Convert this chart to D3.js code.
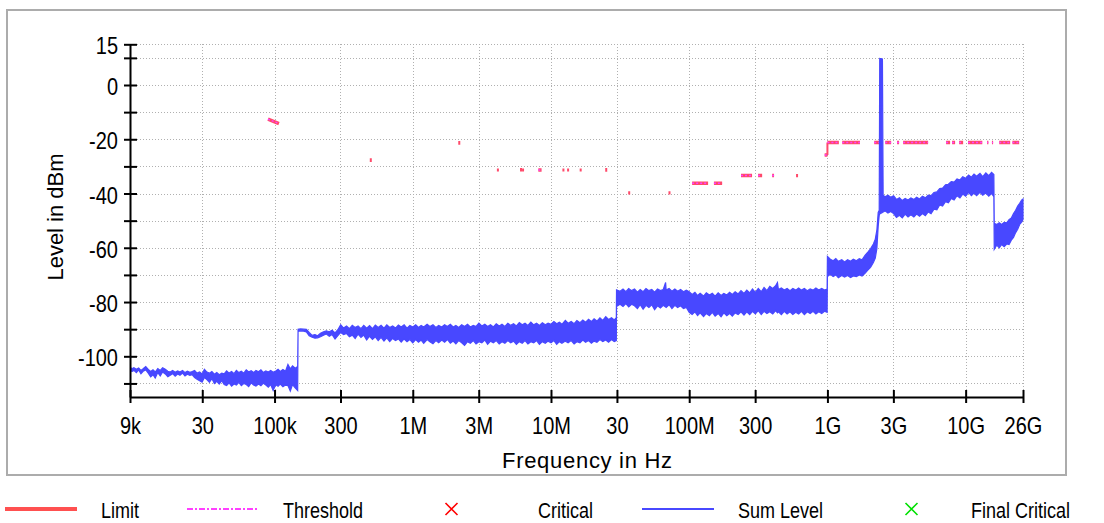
<!DOCTYPE html>
<html><head><meta charset="utf-8">
<script src="https://cdn.jsdelivr.net/npm/d3@7"></script>
<style>
body{margin:0;background:#fff}
svg{display:block}
text{font-family:"Liberation Sans",Arial,sans-serif;fill:#000}
</style>
</head><body>
<svg id="chart" width="1104" height="523"></svg>
<script>
// ---------- data ----------
const xTickValues = [9e3, 3e4, 1e5, 3e5, 1e6, 3e6, 1e7, 3e7, 1e8, 3e8, 1e9, 3e9, 1e10, 2.6e10];
const xTickLabels = ["9k", "30", "100k", "300", "1M", "3M", "10M", "30", "100M", "300", "1G", "3G", "10G", "26G"];
const yTickValues = [15, 10, 0, -10, -20, -30, -40, -50, -60, -70, -80, -90, -100, -110];
const yTickLabels = ["15", "", "0", "", "-20", "", "-40", "", "-60", "", "-80", "", "-100", ""];

// Sum Level trace rows: [frequency Hz, upper edge dBm, lower edge dBm]
const sumLevelLF = [
  [9e3, -104.0, -104.8], [9.3e3, -104.6, -105.6], [9.6e3, -104.2, -105.2], [10e3, -104.8, -106.0],
  [10.4e3, -104.3, -105.0], [10.8e3, -105.2, -106.4], [11.2e3, -104.6, -105.5], [11.7e3, -103.8, -105.0],
  [12.2e3, -104.8, -106.2], [12.7e3, -105.6, -107.6], [13.2e3, -105.0, -106.8], [13.7e3, -105.8, -108.0],
  [14.3e3, -104.5, -106.0], [14.9e3, -105.2, -107.2], [15.5e3, -104.2, -105.8], [16.2e3, -104.8, -106.5],
  [16.9e3, -105.5, -107.5], [17.6e3, -105.8, -107.0], [18.3e3, -105.2, -106.4], [19.1e3, -105.9, -107.3],
  [19.9e3, -105.4, -106.5], [20.7e3, -105.8, -107.0], [21.6e3, -105.2, -106.2], [22.5e3, -106.0, -107.2],
  [23.4e3, -105.5, -106.6], [24.4e3, -105.9, -107.0], [25.4e3, -105.6, -106.8], [26.4e3, -105.2, -107.8],
  [27.5e3, -106.2, -108.5], [28.7e3, -105.8, -109.0], [29.9e3, -106.5, -109.5], [31.1e3, -104.8, -107.8],
  [32.4e3, -105.8, -108.6], [33.8e3, -106.2, -109.6], [35.2e3, -105.6, -108.2], [36.7e3, -106.6, -110.0],
  [38.2e3, -106.0, -109.2], [39.8e3, -106.8, -110.2], [41.5e3, -106.2, -109.0], [43.2e3, -106.5, -110.4],
  [45e3, -105.4, -110.8], [46.9e3, -106.2, -109.8], [48.9e3, -105.6, -111.0], [50.9e3, -106.4, -110.2],
  [53e3, -105.2, -110.6], [55.2e3, -106.0, -109.6], [57.5e3, -105.5, -110.8], [59.9e3, -106.2, -110.0],
  [62.4e3, -105.0, -110.4], [65e3, -105.8, -111.2], [67.7e3, -105.3, -109.8], [70.5e3, -106.0, -110.6],
  [73.4e3, -105.2, -111.0], [76.5e3, -105.7, -110.2], [79.7e3, -105.0, -110.8], [83e3, -106.0, -109.9],
  [86.5e3, -105.4, -110.6], [90.1e3, -105.8, -111.4], [93.8e3, -105.2, -110.4], [97.7e3, -105.9, -112.6],
  [102e3, -105.4, -110.5], [106e3, -104.8, -111.0], [110e3, -105.6, -110.2], [115e3, -104.9, -111.2],
  [120e3, -105.5, -110.6], [125e3, -103.0, -110.8], [130e3, -104.6, -112.8], [135e3, -103.5, -110.4],
  [141e3, -104.4, -111.6], [147e3, -103.8, -112.6]
];
const sumLevelMF = [
  [148e3, -90.0, -90.8], [154e3, -89.9, -90.6], [162e3, -90.0, -90.7], [170e3, -90.1, -91.0],
  [178e3, -91.2, -92.4], [187e3, -92.3, -93.0], [196e3, -92.0, -93.3], [205e3, -92.4, -93.2],
  [215e3, -91.5, -92.8], [226e3, -91.0, -92.2], [237e3, -90.6, -91.8], [249e3, -91.0, -92.6],
  [261e3, -90.4, -92.0], [274e3, -91.4, -93.6], [287e3, -90.2, -92.4], [301e3, -88.4, -91.2],
  [316e3, -89.6, -92.0], [332e3, -88.8, -91.6], [348e3, -89.8, -92.8], [365e3, -88.6, -92.2],
  [383e3, -89.4, -93.4], [402e3, -88.8, -91.8], [422e3, -89.8, -93.0], [442e3, -88.6, -92.2],
  [464e3, -89.6, -94.0], [487e3, -88.7, -92.6], [511e3, -89.8, -93.8], [536e3, -88.5, -92.8],
  [562e3, -89.4, -94.2], [590e3, -88.6, -93.0], [619e3, -89.6, -94.4], [649e3, -88.4, -93.2],
  [681e3, -89.4, -94.6], [715e3, -88.8, -93.4], [750e3, -89.6, -94.2], [787e3, -88.5, -93.6],
  [825e3, -89.2, -94.8], [866e3, -88.4, -93.6], [909e3, -89.6, -94.6], [953e3, -88.6, -93.8],
  [1.00e6, -89.2, -95.0], [1.05e6, -88.4, -93.8], [1.10e6, -89.4, -94.8], [1.15e6, -88.6, -94.0],
  [1.20e6, -89.2, -95.2], [1.27e6, -88.2, -93.8], [1.33e6, -89.0, -94.6], [1.40e6, -88.4, -95.4],
  [1.47e6, -89.4, -94.2], [1.54e6, -88.6, -95.0], [1.62e6, -89.2, -94.0], [1.70e6, -88.4, -94.8],
  [1.78e6, -89.0, -93.8], [1.87e6, -88.2, -95.2], [1.96e6, -89.2, -94.4], [2.05e6, -88.6, -95.4],
  [2.15e6, -89.4, -94.2], [2.26e6, -88.4, -95.0], [2.37e6, -89.0, -96.0], [2.49e6, -88.2, -94.6],
  [2.61e6, -89.2, -95.2], [2.74e6, -88.6, -94.2], [2.87e6, -89.0, -95.4], [3.01e6, -87.8, -94.6],
  [3.16e6, -88.8, -95.0], [3.32e6, -88.2, -94.0], [3.48e6, -89.0, -95.6], [3.65e6, -88.4, -94.4],
  [3.83e6, -89.2, -95.0], [4.02e6, -88.0, -94.2], [4.22e6, -88.8, -95.4], [4.42e6, -88.2, -94.6],
  [4.64e6, -89.0, -95.2], [4.87e6, -87.8, -94.2], [5.11e6, -88.6, -95.0], [5.36e6, -88.0, -94.4],
  [5.62e6, -88.8, -95.6], [5.90e6, -87.6, -94.6], [6.19e6, -88.4, -95.2], [6.49e6, -87.8, -94.2],
  [6.81e6, -88.6, -95.4], [7.15e6, -87.4, -94.6], [7.50e6, -88.4, -95.0], [7.87e6, -87.8, -94.2],
  [8.25e6, -88.6, -95.6], [8.66e6, -87.6, -94.6], [9.09e6, -88.4, -95.2], [9.53e6, -87.8, -94.4],
  [10.0e6, -88.2, -95.0], [10.5e6, -87.2, -94.2], [11.0e6, -88.0, -95.6], [11.5e6, -87.4, -94.6],
  [12.0e6, -88.2, -95.2], [12.7e6, -86.8, -94.4], [13.3e6, -87.8, -95.0], [14.0e6, -87.2, -94.2],
  [14.7e6, -88.0, -95.4], [15.4e6, -86.8, -94.6], [16.2e6, -87.6, -95.0], [17.0e6, -86.6, -94.0],
  [17.8e6, -87.4, -94.8], [18.7e6, -86.4, -94.2], [19.6e6, -87.2, -95.2], [20.5e6, -86.2, -94.4],
  [21.5e6, -87.0, -94.8], [22.6e6, -85.8, -93.8], [23.7e6, -86.8, -94.6], [24.9e6, -85.4, -94.0],
  [26.1e6, -86.4, -94.8], [27.4e6, -85.8, -93.8], [28.7e6, -86.6, -94.6], [29.7e6, -85.8, -94.2]
];
const sumLevelHF = [
  [29.8e6, -75.5, -81.6], [31.6e6, -76.0, -80.8], [33.2e6, -75.2, -81.6], [34.8e6, -76.2, -80.6],
  [36.5e6, -75.0, -81.8], [38.3e6, -75.8, -80.8], [40.2e6, -75.2, -81.4], [42.2e6, -76.4, -82.4],
  [44.2e6, -75.4, -81.0], [46.4e6, -76.2, -82.6], [48.7e6, -75.0, -81.2], [51.1e6, -75.8, -82.0],
  [53.6e6, -75.4, -81.0], [56.2e6, -76.4, -82.8], [59.0e6, -75.2, -81.4], [61.9e6, -75.8, -82.2],
  [64.9e6, -75.4, -81.2], [67.5e6, -72.8, -81.8], [68.1e6, -75.6, -82.0], [71.5e6, -75.0, -81.0],
  [75.0e6, -76.0, -82.4], [78.7e6, -75.2, -81.2], [82.5e6, -76.0, -82.0], [86.6e6, -75.4, -81.4],
  [90.9e6, -76.2, -82.4], [95.3e6, -75.6, -82.0], [100e6, -76.2, -83.8], [105e6, -77.2, -84.6],
  [110e6, -76.4, -83.6], [115e6, -77.6, -85.0], [120e6, -76.8, -84.0], [127e6, -77.8, -85.4],
  [133e6, -76.6, -84.2], [140e6, -77.4, -85.0], [147e6, -76.8, -83.8], [154e6, -77.8, -85.2],
  [162e6, -76.6, -84.2], [170e6, -77.6, -85.4], [178e6, -76.8, -84.0], [187e6, -77.4, -85.0],
  [196e6, -76.4, -84.2], [205e6, -77.2, -85.2], [215e6, -76.2, -84.0], [226e6, -77.0, -84.6],
  [237e6, -75.8, -83.6], [249e6, -76.8, -84.8], [261e6, -75.6, -83.6], [274e6, -76.6, -84.6],
  [287e6, -75.2, -83.4], [301e6, -76.4, -84.4], [316e6, -75.0, -83.2], [332e6, -76.2, -84.6],
  [348e6, -74.6, -83.4], [365e6, -75.8, -84.2], [383e6, -74.2, -83.6], [402e6, -75.0, -84.4],
  [422e6, -74.0, -83.2], [435e6, -72.8, -84.0], [442e6, -75.4, -83.6], [464e6, -74.8, -84.6],
  [487e6, -75.6, -83.4], [511e6, -75.0, -84.4], [536e6, -75.8, -83.6], [562e6, -75.0, -84.6],
  [590e6, -75.6, -83.8], [619e6, -74.8, -84.4], [649e6, -75.6, -83.4], [681e6, -75.0, -84.6],
  [715e6, -75.8, -83.6], [750e6, -75.2, -84.2], [787e6, -75.6, -83.4], [825e6, -74.8, -84.4],
  [866e6, -75.6, -83.6], [909e6, -75.0, -84.2], [953e6, -75.6, -83.4], [995e6, -75.2, -83.8]
];
const sumLevelGHz = [
  [1.0e9, -63.2, -70.6], [1.05e9, -64.2, -69.8], [1.10e9, -64.8, -70.6], [1.15e9, -64.0, -70.0],
  [1.20e9, -65.0, -71.0], [1.27e9, -64.4, -70.2], [1.33e9, -65.2, -70.8], [1.40e9, -64.4, -70.2],
  [1.47e9, -65.0, -71.0], [1.54e9, -64.2, -70.4], [1.62e9, -64.8, -70.6], [1.70e9, -64.0, -70.0],
  [1.78e9, -64.4, -70.4], [1.87e9, -62.8, -69.4], [1.96e9, -61.6, -68.2], [2.05e9, -60.4, -67.2],
  [2.15e9, -58.6, -65.4], [2.22e9, -56.8, -63.8], [2.28e9, -53.4, -60.2], [2.33e9, -47.0, -52.0],
  [2.37e9, -46.2, -48.0], [2.39e9, 9.8, -47.5], [2.50e9, 9.6, -47.0], [2.53e9, -40.6, -46.8],
  [2.61e9, -41.2, -46.4], [2.74e9, -40.6, -47.2], [2.87e9, -41.4, -46.6], [3.01e9, -40.8, -47.4],
  [3.16e9, -42.2, -48.8], [3.32e9, -41.6, -48.0], [3.48e9, -42.6, -49.0], [3.65e9, -41.8, -47.6],
  [3.83e9, -42.4, -48.6], [4.02e9, -41.6, -47.8], [4.22e9, -42.2, -48.6], [4.42e9, -41.4, -47.6],
  [4.64e9, -42.0, -48.4], [4.87e9, -41.0, -47.4], [5.11e9, -41.6, -48.2], [5.36e9, -40.6, -46.8],
  [5.62e9, -40.8, -47.4], [5.90e9, -39.6, -45.8], [6.19e9, -39.4, -46.0], [6.49e9, -38.2, -44.2],
  [6.81e9, -38.0, -44.6], [7.15e9, -36.8, -43.0], [7.50e9, -36.6, -43.4], [7.87e9, -35.6, -41.8],
  [8.25e9, -35.8, -42.4], [8.66e9, -34.6, -40.8], [9.09e9, -35.0, -41.6], [9.53e9, -33.8, -40.2],
  [10.0e9, -34.4, -41.0], [10.5e9, -33.2, -39.6], [11.0e9, -34.0, -40.8], [11.5e9, -32.8, -39.8],
  [12.0e9, -33.6, -40.8], [12.7e9, -32.6, -39.6], [13.3e9, -33.8, -40.6], [14.0e9, -32.4, -39.8],
  [14.7e9, -33.4, -41.0], [15.4e9, -32.2, -40.0], [16.0e9, -33.0, -41.2], [16.1e9, -51.0, -60.6],
  [16.8e9, -51.4, -59.0], [17.5e9, -50.8, -60.0], [18.2e9, -51.4, -58.8], [19.0e9, -50.6, -59.6],
  [19.8e9, -50.8, -58.6], [20.6e9, -49.6, -58.8], [21.4e9, -49.0, -57.2], [22.2e9, -47.4, -56.2],
  [23.0e9, -46.2, -54.4], [23.8e9, -44.6, -53.2], [24.6e9, -43.6, -51.4], [25.4e9, -42.4, -50.6],
  [26.0e9, -42.0, -49.6]
];

// Limit line pieces: [start Hz, end Hz, start dBm, end dBm]
const limitSegments = [
  [89.7e3, 107.6e3, -12.6, -14.2],
  [497e3, 497e3, -27.0, -28.4],
  [2.17e6, 2.17e6, -20.6, -22.0],
  [4.13e6, 4.13e6, -30.8, -31.9],
  [6.07e6, 6.07e6, -30.6, -31.9],
  [6.28e6, 6.28e6, -30.8, -31.9],
  [8.1e6, 8.55e6, -31.3, -31.3],
  [12.3e6, 12.3e6, -30.8, -31.9],
  [13.3e6, 13.3e6, -30.8, -31.9],
  [16.4e6, 16.4e6, -30.8, -31.9],
  [25.1e6, 25.1e6, -30.6, -32.0],
  [36.8e6, 36.8e6, -39.2, -40.4],
  [72e6, 72e6, -39.2, -40.4],
  [105e6, 137e6, -36.2, -36.2],
  [151e6, 173e6, -36.2, -36.2],
  [237e6, 285e6, -33.4, -33.4],
  [315e6, 337e6, -33.4, -33.4],
  [398e6, 411e6, -33.4, -33.4],
  [603e6, 603e6, -32.8, -34.0],
  [955e6, 1.0e9, -25.8, -25.8],
  [1.0e9, 1.0e9, -25.8, -21.2],
  [1.0e9, 1.21e9, -21.2, -21.2],
  [1.28e9, 1.72e9, -21.2, -21.2],
  [2.18e9, 2.49e9, -21.2, -21.2],
  [2.62e9, 2.89e9, -21.2, -21.2],
  [3.19e9, 3.3e9, -21.2, -21.2],
  [3.53e9, 5.35e9, -21.2, -21.2],
  [7.22e9, 7.72e9, -21.2, -21.2],
  [7.98e9, 8.39e9, -21.2, -21.2],
  [8.97e9, 9.59e9, -21.2, -21.2],
  [10.4e9, 13.2e9, -21.2, -21.2],
  [14.3e9, 14.6e9, -21.2, -21.2],
  [15.5e9, 15.8e9, -21.2, -21.2],
  [17.5e9, 21.0e9, -21.2, -21.2],
  [21.8e9, 24.4e9, -21.2, -21.2]
];
// Threshold coincides with the limit pieces (same values)
const thresholdSegments = limitSegments;

const legendLabels = ["Limit", "Threshold", "Critical", "Sum Level", "Final Critical"];
const legendKinds = ["line", "dashdot", "cross", "line", "cross"];
const legendColors = ["#ff5050", "#ff40ff", "#ff0000", "#4848ff", "#00e000"];

const xTitle = "Frequency in Hz";
const yTitle = "Level in dBm";

// ---------- drawing ----------
const svg = d3.select("#chart");
const pLeft = 130, pRight = 1023, pTop = 44.3, pBottom = 397;
const x = d3.scaleLog().domain([9e3, 2.6e10]).range([pLeft, pRight]);
const y = d3.scaleLinear().domain([-115, 15]).range([pBottom, pTop]);

// frame
svg.append("rect").attr("x", 7).attr("y", 10).attr("width", 1059).attr("height", 465)
  .attr("fill", "#fff").attr("stroke", "#acacac").attr("stroke-width", 2);

// grid
const grid = svg.append("g").attr("stroke", "#b0b0b0").attr("stroke-width", 1)
  .attr("stroke-dasharray", "1,2").attr("shape-rendering", "crispEdges");
grid.selectAll("line.h").data(yTickValues).join("line")
  .attr("x1", pLeft + 7).attr("x2", pRight).attr("y1", d => Math.round(y(d)) + 0.5).attr("y2", d => Math.round(y(d)) + 0.5);
grid.selectAll("line.v").data(xTickValues.slice(1)).join("line")
  .attr("y1", pTop).attr("y2", pBottom - 6).attr("x1", d => Math.round(x(d)) + 0.5).attr("x2", d => Math.round(x(d)) + 0.5);

// clip
svg.append("clipPath").attr("id", "plot").append("rect")
  .attr("x", pLeft).attr("y", pTop - 2).attr("width", pRight - pLeft + 3).attr("height", pBottom - pTop + 2);

const sumData = [...sumLevelLF, ...sumLevelMF, ...sumLevelHF, ...sumLevelGHz]
  .map(r => ({ f: r[0], hi: r[1], lo: r[2] }));
const area = d3.area().x(d => x(d.f)).y0(d => y(d.lo)).y1(d => y(d.hi));
const plot = svg.append("g").attr("clip-path", "url(#plot)");

// limit (under trace)
const limG = plot.append("g");
limG.selectAll("line.lim").data(limitSegments).join("line")
  .attr("x1", d => x(d[0])).attr("x2", d => x(d[1]))
  .attr("y1", d => y(d[2])).attr("y2", d => y(d[3]))
  .attr("stroke", "#ff4a6a").attr("stroke-width", d => d[0] === d[1] ? 2 : 3.5);
limG.selectAll("line.thr").data(thresholdSegments.filter(d => d[0] !== d[1])).join("line")
  .attr("x1", d => x(d[0])).attr("x2", d => x(d[1]))
  .attr("y1", d => y(d[2])).attr("y2", d => y(d[3]))
  .attr("stroke", "#ff40ff").attr("stroke-width", 1.5).attr("stroke-dasharray", "2,2");

plot.append("path").datum(sumData).attr("d", area)
  .attr("fill", "#4848ff").attr("stroke", "#4848ff").attr("stroke-width", 1.2).attr("stroke-linejoin", "miter");

// axes
const yAxis = d3.axisLeft(y).tickValues(yTickValues).tickFormat((d, i) => yTickLabels[i]).tickSizeOuter(0);
const gy = svg.append("g").attr("transform", `translate(${pLeft},0)`).call(yAxis);
gy.select(".domain").attr("stroke", "#000").attr("stroke-width", 2);
gy.selectAll(".tick line").attr("x1", -6).attr("x2", 7).attr("stroke", "#000").attr("stroke-width", 2);
gy.selectAll(".tick text").attr("x", null).attr("dy", null).attr("font-size", 20)
  .attr("font-family", "Liberation Sans, Arial, sans-serif")
  .attr("transform", "translate(-12,9.5) scale(1,1.2)").attr("text-anchor", "end");

const xAxis = d3.axisBottom(x).tickValues(xTickValues).tickFormat((d, i) => xTickLabels[i]).tickSizeOuter(0);
const gx = svg.append("g").attr("transform", `translate(0,${pBottom})`).call(xAxis);
gx.select(".domain").attr("stroke", "#000").attr("stroke-width", 2);
gx.selectAll(".tick line").attr("y1", -7).attr("y2", 6).attr("stroke", "#000").attr("stroke-width", 2);
gx.selectAll(".tick text").attr("y", null).attr("dy", null).attr("font-size", 20)
  .attr("font-family", "Liberation Sans, Arial, sans-serif")
  .attr("transform", "translate(0,37) scale(1,1.2)").attr("text-anchor", "middle");

// titles
svg.append("text").attr("transform", "translate(587,468)").attr("text-anchor", "middle")
  .attr("font-size", 22).attr("textLength", 170).attr("lengthAdjust", "spacing").text(xTitle);
svg.append("text").attr("transform", "translate(63,217) rotate(-90)").attr("text-anchor", "middle")
  .attr("font-size", 22).text(yTitle);

// legend
const legX = [5, 187, 445, 642, 905];
const legTextX = [101, 283, 538, 738, 971];
const legY = 509;
const leg = svg.append("g");
legendLabels.forEach((lab, i) => {
  const k = legendKinds[i], c = legendColors[i];
  if (k === "line") {
    leg.append("line").attr("x1", legX[i]).attr("x2", legX[i] + 72).attr("y1", legY).attr("y2", legY)
      .attr("stroke", c).attr("stroke-width", i === 0 ? 4 : 2);
  } else if (k === "dashdot") {
    leg.append("line").attr("x1", legX[i]).attr("x2", legX[i] + 72).attr("y1", legY).attr("y2", legY)
      .attr("stroke", c).attr("stroke-width", 2).attr("stroke-dasharray", "6,2,2,2");
  } else {
    const cx = legX[i] + 6.5;
    leg.append("path").attr("d", `M${cx - 6},${legY - 6}L${cx + 6},${legY + 6}M${cx - 6},${legY + 6}L${cx + 6},${legY - 6}`)
      .attr("stroke", c).attr("stroke-width", 1.6).attr("fill", "none");
  }
  leg.append("text").attr("transform", `translate(${legTextX[i]},517.5) scale(1,1.25)`)
    .attr("font-size", 18).text(lab);
});
</script>
</body></html>
